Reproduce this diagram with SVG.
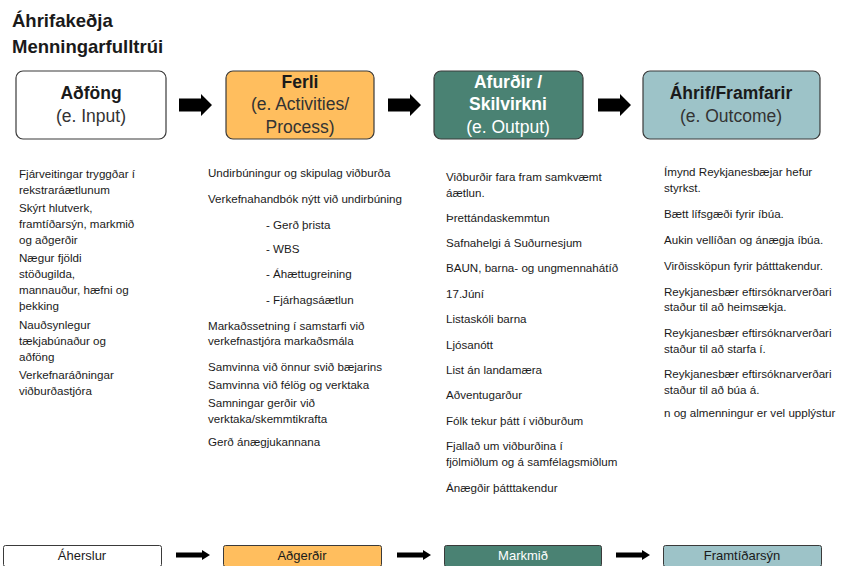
<svg xmlns="http://www.w3.org/2000/svg" width="844" height="566" viewBox="0 0 844 566">
<defs>
<style>
text{font-family:"Liberation Sans",Arial,sans-serif;fill:#1a1a1a}
.title{font-size:18.5px;font-weight:bold}
.hb{font-size:17.5px;font-weight:bold;text-anchor:middle}
.hn{font-size:17.5px;text-anchor:middle;fill:#333}
.w{fill:#fff}
.b{font-size:11.6px}
.box{stroke:#3a3a3a;stroke-width:1.2}
.sm{stroke:#3a3a3a;stroke-width:1}
.lab{font-family:"Liberation Sans Narrow","Liberation Sans",sans-serif;font-size:13px;text-anchor:middle}
</style>
</defs>
<rect width="844" height="566" fill="#fff"/>
<g id="title">
<text class="title" x="12" y="27">Áhrifakeðja</text>
<text class="title" x="12" y="53">Menningarfulltrúi</text>
</g>
<g id="n1">
<rect class="box" x="16" y="71" width="150" height="68" rx="7" fill="#fff"/>
<text class="hb" x="91" y="99">Aðföng</text>
<text class="hn" x="91" y="122">(e. Input)</text>
</g>
<g id="n2">
<rect class="box" x="226" y="71" width="148" height="68" rx="7" fill="#FFBE5E"/>
<text class="hb" x="300" y="88">Ferli</text>
<text class="hn" x="300" y="110">(e. Activities/</text>
<text class="hn" x="300" y="133">Process)</text>
</g>
<g id="n3">
<rect class="box" x="434" y="71" width="149" height="68" rx="7" fill="#4A8273"/>
<text class="hb w" x="508" y="88">Afurðir /</text>
<text class="hb w" x="508" y="110">Skilvirkni</text>
<text class="hn w" x="508" y="133">(e. Output)</text>
</g>
<g id="n4">
<rect class="box" x="643" y="71" width="177" height="68" rx="7" fill="#9DC3C8"/>
<text class="hb" x="731" y="99">Áhrif/Framfarir</text>
<text class="hn" x="731" y="122">(e. Outcome)</text>
</g>
<g id="connectors" fill="#000">
<polygon points="179,98.5 201,98.5 201,94 212,105 201,116 201,111.5 179,111.5"/>
<polygon points="388,98.5 410,98.5 410,94 421,105 410,116 410,111.5 388,111.5"/>
<polygon points="598,98.5 620,98.5 620,94 631,105 620,116 620,111.5 598,111.5"/>
<polygon points="176,552.5 202,552.5 202,550 210,555 202,560 202,557.5 176,557.5"/>
<polygon points="397,552.5 423,552.5 423,550 431,555 423,560 423,557.5 397,557.5"/>
<polygon points="616,552.5 642,552.5 642,550 650,555 642,560 642,557.5 616,557.5"/>
</g>
<g id="col1">
<text class="b" x="19" y="178">Fjárveitingar tryggðar í</text>
<text class="b" x="19" y="194">rekstraráætlunum</text>
<text class="b" x="19" y="212">Skýrt hlutverk,</text>
<text class="b" x="19" y="228">framtíðarsýn, markmið</text>
<text class="b" x="19" y="244">og aðgerðir</text>
<text class="b" x="19" y="262">Nægur fjöldi</text>
<text class="b" x="19" y="278">stöðugilda,</text>
<text class="b" x="19" y="294">mannauður, hæfni og</text>
<text class="b" x="19" y="310">þekking</text>
<text class="b" x="19" y="329">Nauðsynlegur</text>
<text class="b" x="19" y="345">tækjabúnaður og</text>
<text class="b" x="19" y="361">aðföng</text>
<text class="b" x="19" y="379">Verkefnaráðningar</text>
<text class="b" x="19" y="395">viðburðastjóra</text>
</g>
<g id="col2">
<text class="b" x="208" y="177">Undirbúningur og skipulag viðburða</text>
<text class="b" x="208" y="203">Verkefnahandbók nýtt við undirbúning</text>
<text class="b" x="266" y="229">- Gerð þrista</text>
<text class="b" x="266" y="253">- WBS</text>
<text class="b" x="266" y="278">- Áhættugreining</text>
<text class="b" x="266" y="304">- Fjárhagsáætlun</text>
<text class="b" x="208" y="330">Markaðssetning í samstarfi við</text>
<text class="b" x="208" y="345">verkefnastjóra markaðsmála</text>
<text class="b" x="208" y="371">Samvinna við önnur svið bæjarins</text>
<text class="b" x="208" y="389">Samvinna við félög og verktaka</text>
<text class="b" x="208" y="407">Samningar gerðir við</text>
<text class="b" x="208" y="423">verktaka/skemmtikrafta</text>
<text class="b" x="208" y="446">Gerð ánægjukannana</text>
</g>
<g id="col3">
<text class="b" x="446" y="181">Viðburðir fara fram samkvæmt</text>
<text class="b" x="446" y="197">áætlun.</text>
<text class="b" x="446" y="222">Þrettándaskemmtun</text>
<text class="b" x="446" y="247">Safnahelgi á Suðurnesjum</text>
<text class="b" x="446" y="272">BAUN, barna- og ungmennahátíð</text>
<text class="b" x="446" y="298">17.Júní</text>
<text class="b" x="446" y="323">Listaskóli barna</text>
<text class="b" x="446" y="349">Ljósanótt</text>
<text class="b" x="446" y="374">List án landamæra</text>
<text class="b" x="446" y="399">Aðventugarður</text>
<text class="b" x="446" y="425">Fólk tekur þátt í viðburðum</text>
<text class="b" x="446" y="450">Fjallað um viðburðina í</text>
<text class="b" x="446" y="466">fjölmiðlum og á samfélagsmiðlum</text>
<text class="b" x="446" y="492">Ánægðir þátttakendur</text>
</g>
<g id="col4">
<text class="b" x="664" y="176">Ímynd Reykjanesbæjar hefur</text>
<text class="b" x="664" y="192">styrkst.</text>
<text class="b" x="664" y="218">Bætt lífsgæði fyrir íbúa.</text>
<text class="b" x="664" y="244">Aukin vellíðan og ánægja íbúa.</text>
<text class="b" x="664" y="270">Virðissköpun fyrir þátttakendur.</text>
<text class="b" x="664" y="296">Reykjanesbær eftirsóknarverðari</text>
<text class="b" x="664" y="311">staður til að heimsækja.</text>
<text class="b" x="664" y="337">Reykjanesbær eftirsóknarverðari</text>
<text class="b" x="664" y="353">staður til að starfa í.</text>
<text class="b" x="664" y="378">Reykjanesbær eftirsóknarverðari</text>
<text class="b" x="664" y="394">staður til að búa á.</text>
<text class="b" x="664" y="417">n og almenningur er vel upplýstur</text>
</g>
<g id="b1">
<rect class="sm" x="3.5" y="545.5" width="158" height="21" rx="2" fill="#fff"/>
<text class="lab" x="82" y="560">Áherslur</text>
</g>
<g id="b2">
<rect class="sm" x="223.5" y="545.5" width="158" height="21" rx="2" fill="#FFBE5E"/>
<text class="lab" x="302" y="560">Aðgerðir</text>
</g>
<g id="b3">
<rect class="sm" x="444.5" y="545.5" width="157" height="21" rx="2" fill="#4A8273"/>
<text class="lab w" x="523" y="560">Markmið</text>
</g>
<g id="b4">
<rect class="sm" x="663.5" y="545.5" width="158" height="21" rx="2" fill="#9DC3C8"/>
<text class="lab" x="742" y="560">Framtíðarsýn</text>
</g>
</svg>
